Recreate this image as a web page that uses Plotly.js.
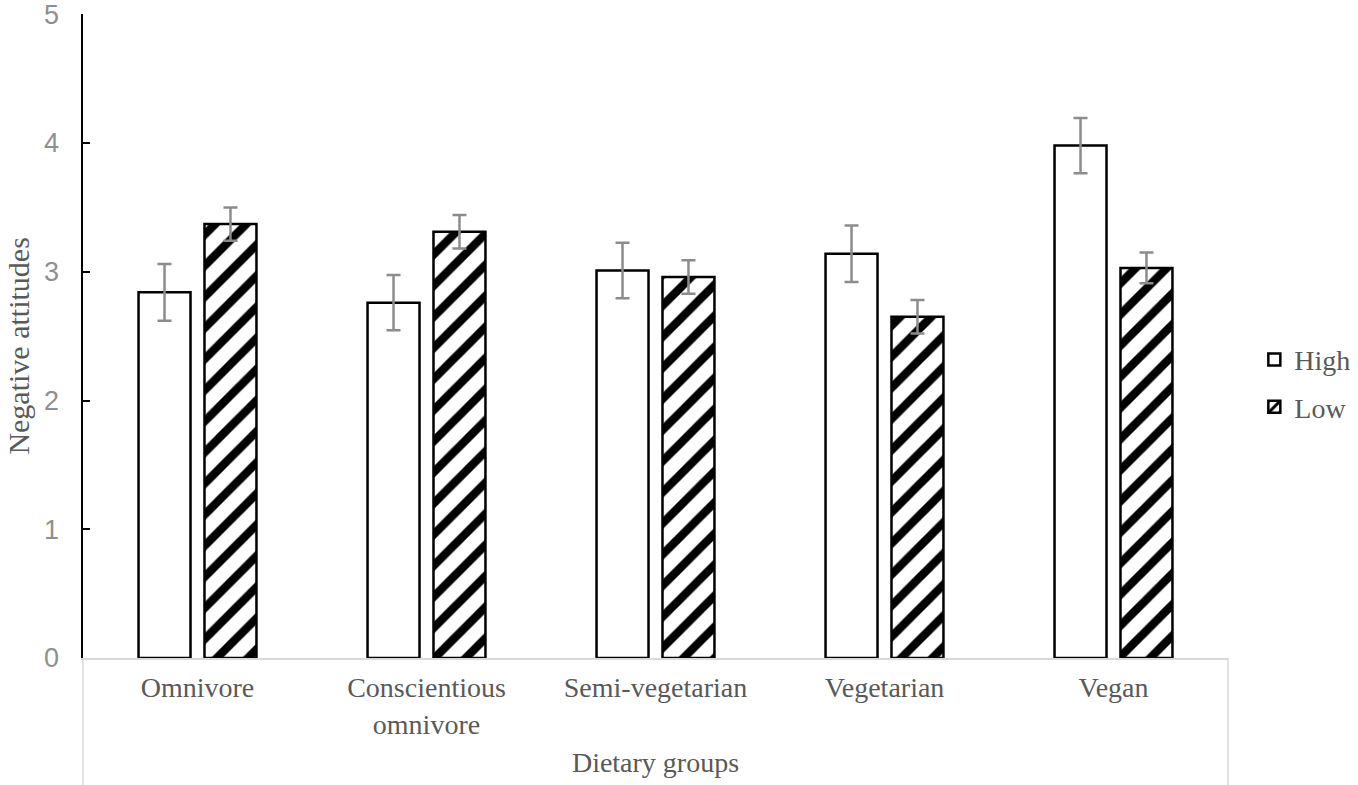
<!DOCTYPE html>
<html>
<head>
<meta charset="utf-8">
<script src="https://cdn.plot.ly/plotly-3.0.1.min.js"></script>
<style>html,body{margin:0;padding:0;background:#fff;}#chart{width:1358px;height:785px;}</style>
</head>
<body>
<div id="chart"></div>
<script>
const categories = ["Omnivore", "Conscientious<br>omnivore", "Semi-vegetarian", "Vegetarian", "Vegan"];
const highValues = [2.84, 2.76, 3.01, 3.14, 3.98];
const highErrors = [0.22, 0.215, 0.215, 0.22, 0.215];
const lowValues = [3.37, 3.31, 2.96, 2.65, 3.03];
const lowErrors = [0.13, 0.13, 0.13, 0.13, 0.12];
const yTicks = [0, 1, 2, 3, 4, 5];

const serif = "Liberation Serif, Times New Roman, serif";
const textGray = "#595959";

const errStyle = {type: "data", visible: true, color: "#8c8c8c", thickness: 2.5, width: 7};

const traces = [
  {
    type: "bar", name: "High", x: categories, y: highValues,
    legendgroup: "h",
    marker: {color: "#ffffff", line: {color: "#000000", width: 2.5}},
    error_y: Object.assign({array: highErrors}, errStyle),
    hoverinfo: "skip"
  },
  {
    type: "bar", name: "Low", x: categories, y: lowValues,
    legendgroup: "l",
    marker: {color: "#ffffff", line: {color: "#000000", width: 2.5},
      pattern: {shape: "/", fgcolor: "#000000", bgcolor: "#ffffff", size: 22, solidity: 0.38, fillmode: "replace"}},
    error_y: Object.assign({array: lowErrors}, errStyle),
    hoverinfo: "skip"
  }
];

const layout = {
  width: 1358, height: 785,
  margin: {l: 83, r: 130, t: 14, b: 127, autoexpand: false},
  paper_bgcolor: "#ffffff", plot_bgcolor: "#ffffff",
  barmode: "group", bargap: 0.424, bargroupgap: 0.212,
  showlegend: true,
  legend: {
    x: 1.023, xanchor: "left", y: 0.502, yanchor: "top",
    font: {family: serif, size: 28, color: textGray},
    traceorder: "grouped", tracegroupgap: 8,
    itemwidth: 30, bgcolor: "rgba(0,0,0,0)", borderwidth: 0
  },
  xaxis: {
    type: "category",
    showline: true, linecolor: "#d9d9d9", linewidth: 1.5,
    showgrid: false, zeroline: false, ticks: "",
    tickfont: {family: serif, size: 28, color: textGray},
    ticklabelstandoff: 4,
    title: {text: "Dietary groups", font: {family: serif, size: 28, color: textGray}, standoff: 14},
    automargin: false
  },
  yaxis: {
    range: [0, 5.002], tickvals: yTicks, ticktext: yTicks.map(String),
    showline: true, linecolor: "#000000", linewidth: 2.5,
    ticks: "inside", ticklen: 7, tickwidth: 2, tickcolor: "#000000",
    showgrid: false, zeroline: false,
    ticklabeloverflow: "allow",
    tickfont: {family: "Liberation Sans, Arial, sans-serif", size: 27, color: "#8f8f8f"},
    ticklabelstandoff: 16,
    automargin: false
  },
  annotations: [
    {text: "Negative attitudes", xref: "paper", yref: "paper", x: -0.0565, y: 0.484,
     xanchor: "center", yanchor: "middle", textangle: -90, showarrow: false,
     font: {family: serif, size: 30, color: textGray}}
  ],
  shapes: [
    {type: "line", xref: "paper", yref: "paper", x0: 0, x1: 0, y0: 0, y1: -0.2, line: {color: "#d9d9d9", width: 1.5}},
    {type: "line", xref: "paper", yref: "paper", x0: 1, x1: 1, y0: 0, y1: -0.2, line: {color: "#d9d9d9", width: 1.5}}
  ]
};

Plotly.newPlot("chart", traces, layout, {displayModeBar: false, staticPlot: true});
</script>
</body>
</html>
